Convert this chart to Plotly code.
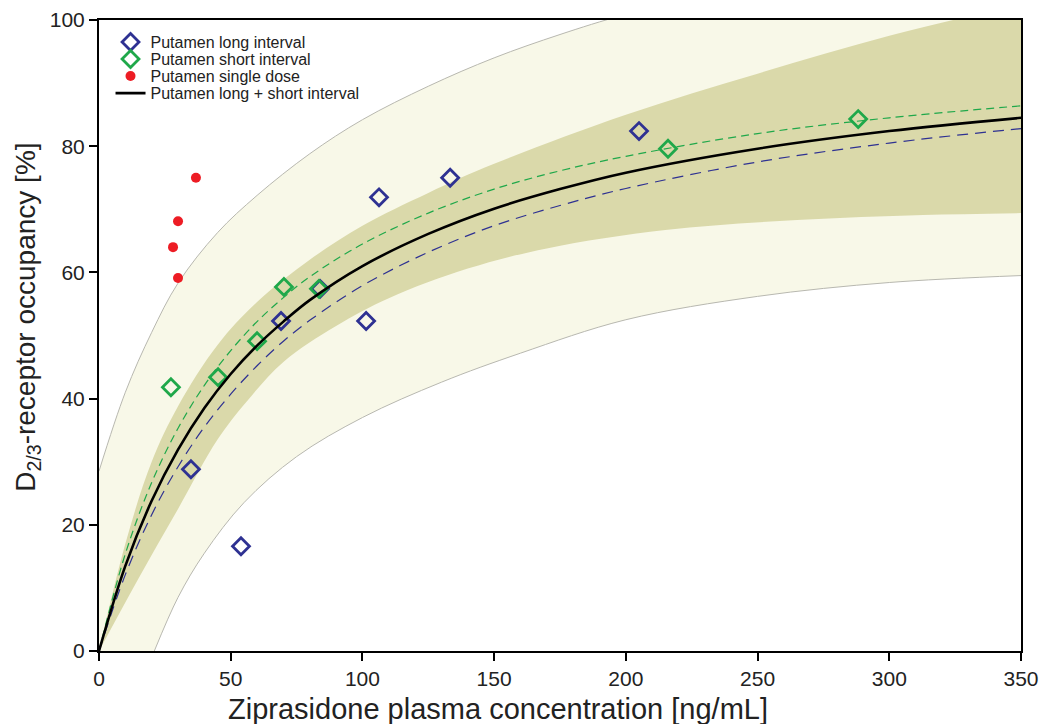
import plotly.graph_objects as go

# ---- data ----
long_x = [34.9, 53.9, 69.1, 83.9, 101.4, 106.3, 133.3, 205.0]
long_y = [28.8, 16.6, 52.3, 57.4, 52.3, 71.9, 75.0, 82.4]

short_x = [27.3, 45.2, 60.0, 70.2, 83.5, 216.0, 288.2]
short_y = [41.8, 43.4, 49.1, 57.7, 57.4, 79.6, 84.3]

single_x = [36.8, 30.0, 28.1, 30.0]
single_y = [75.0, 68.1, 64.0, 59.1]

curve_x = [0, 10, 20, 30, 40, 50, 60, 70, 80, 100, 125, 150, 175, 200, 250, 300, 350]
fit_all = [0, 13.5, 23.8, 31.9, 38.5, 43.9, 48.4, 52.2, 55.6, 61.0, 66.1, 70.1, 73.2, 75.8, 79.6, 82.4, 84.5]
fit_short = [0, 15.4, 26.7, 35.3, 42.1, 47.6, 52.2, 56.0, 59.3, 64.5, 69.4, 73.2, 76.1, 78.4, 82.0, 84.5, 86.4]
fit_long = [0, 12.1, 21.6, 29.2, 35.5, 40.7, 45.2, 49.1, 52.4, 57.9, 63.2, 67.4, 70.6, 73.3, 77.5, 80.5, 82.8]

outer_up_x = [0, 10, 20, 30, 45, 60, 80, 100, 125, 150, 175, 200, 250, 350]
outer_up_y = [28.5, 41.0, 50.5, 58.3, 66.3, 72.2, 78.8, 84.2, 89.5, 94.0, 97.7, 100.9, 106.0, 114.0]

inner_up_x = [0, 10, 20, 30, 45, 60, 80, 100, 125, 150, 200, 250, 300, 350]
inner_up_y = [0, 17.0, 30.0, 38.8, 48.5, 55.3, 62.0, 67.4, 72.6, 77.2, 85.0, 91.5, 97.5, 102.5]

inner_lo_x = [0, 15, 30, 45, 56, 70, 90, 110, 140, 170, 215, 265, 313, 350]
inner_lo_y = [0, 11.5, 22.5, 33.5, 39.5, 45.8, 51.5, 55.9, 60.6, 63.8, 66.7, 68.3, 69.1, 69.4]

outer_lo_x = [21, 30, 40, 55, 75, 100, 130, 160, 200, 250, 300, 350]
outer_lo_y = [0, 8.5, 15.5, 23.5, 30.8, 37.0, 42.6, 47.2, 52.5, 56.2, 58.4, 59.5]

x_ticks = [0, 50, 100, 150, 200, 250, 300, 350]
y_ticks = [0, 20, 40, 60, 80, 100]

# ---- styles ----
LIGHT = "#f8f8e8"
DARK = "#dad9aa"
EDGE = "#b8b8b0"
BLUE = "#2e3192"
GREEN = "#1fa84a"
RED = "#ed1c24"
TEXT = "#222222"
FONT = "Arial, Liberation Sans, sans-serif"

fig = go.Figure()

# bands, layered with tozeroy fills
fig.add_trace(go.Scatter(x=outer_up_x, y=outer_up_y, mode="lines", line=dict(color=EDGE, width=1, shape="spline"),
                         fill="tozeroy", fillcolor=LIGHT, showlegend=False, hoverinfo="skip"))
fig.add_trace(go.Scatter(x=inner_up_x, y=inner_up_y, mode="lines", line=dict(color=DARK, width=0, shape="spline"),
                         fill="tozeroy", fillcolor=DARK, showlegend=False, hoverinfo="skip"))
fig.add_trace(go.Scatter(x=inner_lo_x, y=inner_lo_y, mode="lines", line=dict(color=LIGHT, width=0, shape="spline"),
                         fill="tozeroy", fillcolor=LIGHT, showlegend=False, hoverinfo="skip"))
fig.add_trace(go.Scatter(x=outer_lo_x, y=outer_lo_y, mode="lines", line=dict(color=EDGE, width=1, shape="spline"),
                         fill="tozeroy", fillcolor="white", showlegend=False, hoverinfo="skip"))

# fitted curves
fig.add_trace(go.Scatter(x=curve_x, y=fit_short, mode="lines",
                         line=dict(color=GREEN, width=1.2, dash="8px,5px", shape="spline"),
                         showlegend=False, hoverinfo="skip"))
fig.add_trace(go.Scatter(x=curve_x, y=fit_long, mode="lines",
                         line=dict(color=BLUE, width=1.2, dash="11px,7px", shape="spline"),
                         showlegend=False, hoverinfo="skip"))

# data points (each in its own legend so rows can be spaced like the reference)
fig.add_trace(go.Scatter(x=long_x, y=long_y, mode="markers", name="Putamen long interval", legend="legend",
                         marker=dict(symbol="diamond-open", size=13, color=BLUE, line=dict(width=2.8, color=BLUE))))
fig.add_trace(go.Scatter(x=short_x, y=short_y, mode="markers", name="Putamen short interval", legend="legend2",
                         marker=dict(symbol="diamond-open", size=13, color=GREEN, line=dict(width=2.8, color=GREEN))))
fig.add_trace(go.Scatter(x=single_x, y=single_y, mode="markers", name="Putamen single dose", legend="legend3",
                         marker=dict(symbol="circle", size=10, color=RED, line=dict(width=0))))
fig.add_trace(go.Scatter(x=curve_x, y=fit_all, mode="lines", name="Putamen long + short interval", legend="legend4",
                         line=dict(color="black", width=2.6, shape="spline")))

axis_common = dict(showline=True, linecolor="black", linewidth=2, mirror=True, ticks="outside",
                   ticklen=8, tickwidth=2, tickcolor="black", showgrid=False, zeroline=False,
                   automargin=False,
                   tickfont=dict(family=FONT, size=21, color=TEXT), layer="above traces")

fig.update_xaxes(range=[0, 350], tickvals=x_ticks, ticktext=[str(v) for v in x_ticks], **axis_common)
fig.update_yaxes(range=[0, 100], tickvals=y_ticks, ticktext=[str(v) for v in y_ticks], **axis_common)


def leg(yc):
    return dict(x=0.0125, y=yc, xanchor="left", yanchor="middle", bgcolor="rgba(0,0,0,0)",
                borderwidth=0, font=dict(family=FONT, size=16, color=TEXT))


fig.update_layout(
    width=1040, height=724,
    margin=dict(l=99, r=19, t=20, b=73, autoexpand=False),
    paper_bgcolor="white", plot_bgcolor="white",
    font=dict(family=FONT, color=TEXT),
    legend=leg(0.965), legend2=leg(0.938), legend3=leg(0.911), legend4=leg(0.884),
    annotations=[
        dict(text="Ziprasidone plasma concentration [ng/mL]", xref="paper", yref="paper",
             x=0.433, y=-0.092, xanchor="center", yanchor="middle", showarrow=False,
             font=dict(family=FONT, size=29, color=TEXT)),
        dict(text="D<sub>2/3</sub>-receptor occupancy [%]", xref="paper", yref="paper",
             x=-0.077, y=0.528, xanchor="center", yanchor="middle", showarrow=False, textangle=-90,
             font=dict(family=FONT, size=28, color=TEXT)),
    ],
)

fig.write_html("out.html", config={"displayModeBar": False},
               post_script="document.body.style.margin='0';")
